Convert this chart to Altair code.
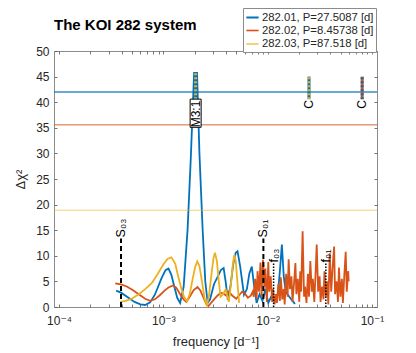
import altair as alt
import pandas as pd

# ---------------- data ----------------
series_names = ["282.01, P=27.5087 [d]", "282.02, P=8.45738 [d]", "282.03, P=87.518 [d]"]
series_colors = ["#0072BD", "#D95319", "#EDB120"]

# 282.01 (blue): log10(frequency [1/d]) and delta chi^2
blue_logf = [-3.452, -3.406, -3.341, -3.276, -3.220, -3.174, -3.127, -3.081, -3.016, -2.979,
             -2.951, -2.923, -2.895, -2.867, -2.839, -2.805, -2.768, -2.737, -2.705, -2.677,
             -2.654, -2.623, -2.598, -2.575, -2.552, -2.514, -2.477, -2.449, -2.422, -2.403,
             -2.382, -2.357, -2.329, -2.306, -2.289, -2.264, -2.227, -2.199, -2.176, -2.152,
             -2.129, -2.106, -2.078, -2.050, -2.022, -1.994, -1.967, -1.934, -1.902, -1.883,
             -1.864, -1.846, -1.827, -1.793, -1.753, -1.739]
blue_val = [3.2, 2.8, 1.9, 1.0, 0.5, 0.4, 0.9, 2.4, 5.7, 7.2,
            7.5, 6.3, 4.0, 1.8, 0.8, 4.0, 15.0, 29.0, 45.7, 45.7,
            30.0, 15.0, 5.0, 0.8, 1.5, 4.5, 6.0, 7.2, 7.6, 5.0,
            1.4, 4.0, 8.5, 10.6, 10.9, 8.0, 2.4, 3.5, 6.5, 7.9,
            4.0, 0.8, 2.5, 1.2, 3.5, 0.8, 2.0, 1.1, 2.6, 7.0,
            12.2, 6.0, 3.0, 2.0, 1.0, 0.6]

# 282.02 (orange)
orange_logf = [-3.461, -3.406, -3.350, -3.294, -3.229, -3.174, -3.127, -3.081, -3.034, -2.988,
               -2.951, -2.907, -2.877, -2.839, -2.802, -2.779, -2.747, -2.709, -2.672, -2.644,
               -2.617, -2.589, -2.567, -2.542, -2.514, -2.477, -2.449, -2.422, -2.403, -2.375,
               -2.338, -2.301, -2.273, -2.245, -2.217, -2.189, -2.162, -2.143,
               -2.134, -2.120, -2.106, -2.097, -2.083, -2.069, -2.059, -2.045, -2.032, -2.022,
               -2.008, -1.994, -1.985, -1.971, -1.957, -1.948, -1.934, -1.920, -1.911, -1.897,
               -1.883, -1.874, -1.860, -1.846, -1.837, -1.823, -1.809, -1.799, -1.786, -1.772,
               -1.762, -1.748, -1.734, -1.725, -1.711, -1.697, -1.688, -1.679, -1.665, -1.651,
               -1.642, -1.628, -1.614, -1.604, -1.591, -1.577, -1.567, -1.553, -1.539, -1.530,
               -1.516, -1.502, -1.493, -1.479, -1.465, -1.456, -1.442, -1.428, -1.419, -1.405,
               -1.391, -1.377, -1.363, -1.354, -1.340, -1.326, -1.317, -1.303, -1.289, -1.279,
               -1.266, -1.252, -1.242, -1.228, -1.224]
orange_val = [4.6, 4.4, 4.0, 3.3, 2.4, 1.6, 1.2, 1.5, 2.3, 3.2,
              3.8, 4.2, 3.8, 2.5, 1.4, 1.0, 2.0, 3.3, 3.9, 3.2,
              1.9, 0.6, 0.2, 0.8, 1.5, 2.3, 2.8, 2.6, 2.3, 3.0,
              2.2, 1.6, 2.3, 3.0, 2.6, 1.8, 2.2, 3.0,
              2.0, 5.5, 1.5, 7.0, 3.0, 8.7, 2.0, 9.2, 4.0, 7.5,
              1.0, 8.8, 3.0, 6.0, 1.0, 3.5, 0.5, 2.5, 0.8, 4.5,
              1.2, 5.8, 1.5, 3.5, 0.5, 6.5, 2.0, 9.3, 3.5, 6.0,
              1.0, 4.5, 8.6, 2.5, 5.5, 1.0, 7.0, 3.0, 14.8, 2.0,
              4.0, 0.8, 6.5, 2.0, 9.0, 3.0, 5.5, 1.0, 7.5, 12.2,
              3.0, 6.0, 1.0, 4.0, 1.5, 7.0, 2.0, 5.0, 0.5, 10.5,
              3.0, 7.9, 11.8, 2.5, 5.0, 1.0, 7.7, 2.0, 5.5, 0.8,
              6.0, 10.8, 3.0, 7.0, 5.0]

# 282.03 (yellow)
yellow_logf = [-3.415, -3.359, -3.294, -3.229, -3.174, -3.109, -3.053, -3.000, -2.960, -2.923,
               -2.886, -2.858, -2.830, -2.802, -2.774, -2.747, -2.719, -2.695, -2.675, -2.654,
               -2.626, -2.603, -2.582, -2.561, -2.538, -2.519, -2.505, -2.487, -2.468, -2.452,
               -2.431, -2.403, -2.372, -2.352, -2.333, -2.319, -2.306, -2.287, -2.273]
yellow_val = [1.0, 1.2, 1.7, 2.6, 3.5, 4.7, 6.5, 8.3, 9.4, 9.7,
              8.5, 6.0, 3.8, 2.0, 1.1, 2.5, 5.5, 7.8, 8.9, 8.0,
              4.5, 1.5, 0.3, 2.5, 6.5, 9.6, 10.6, 9.0, 5.0, 2.0,
              2.4, 3.4, 1.0, 4.5, 8.5, 10.2, 9.0, 4.0, 0.8]

# detection thresholds (horizontal lines)
threshold_levels = [42.0, 35.6, 18.9]

# S and f markers
s_labels = ["S₀₃", "S₀₁"]
s_freq = [3.93e-4, 9.1e-3]
s_top = [13.4, 13.4]
f_labels = ["f₀₃", "f₀₁"]
f_freq = [0.0114, 0.0361]
f_top = [8.5, 8.5]

# resonance / candidate markers
res_freq = [2.04e-3, 0.0249, 0.0805]
res_lo = [40.6, 40.6, 40.6]
res_hi = [45.7, 45.0, 45.0]
res_base = [series_names[0], series_names[0], series_names[1]]
res_dots = [series_names[2], series_names[2], series_names[0]]
res_text = ["M3:1", "C", "C"]
res_text_y = [40.3, 40.4, 40.4]

# boxed "M3:1" label extent
box_freq = [2.04e-3]
box_lo = [35.1]
box_hi = [40.6]

# ---------------- tables ----------------
rows = []
for name, lf, vals in [(series_names[0], blue_logf, blue_val),
                       (series_names[1], orange_logf, orange_val),
                       (series_names[2], yellow_logf, yellow_val)]:
    for a, b in zip(lf, vals):
        rows.append({"series": name, "freq": 10 ** a, "dchi2": b})
curves = pd.DataFrame(rows)

thr = pd.DataFrame({"tseries": series_names, "level": threshold_levels})
sdf = pd.DataFrame({"label": s_labels, "freq": s_freq, "lo": [0] * 2, "top": s_top})
fdf = pd.DataFrame({"label": f_labels, "freq": f_freq, "lo": [0] * 2, "top": f_top})
rdf = pd.DataFrame({"freq": res_freq, "lo": res_lo, "hi": res_hi, "base": res_base,
                    "dots": res_dots, "text": res_text, "ty": res_text_y})
bdf = pd.DataFrame({"freq": box_freq, "blo": box_lo, "bhi": box_hi})

FONT = "Liberation Sans, DejaVu Sans"
TXT = "#262626"
xs = alt.Scale(type="log", domain=[1e-4, 1e-1])
ys = alt.Scale(domain=[0, 50])
cs = alt.Scale(domain=series_names, range=series_colors)

x_ticks = [m * 10.0 ** e for e in (-4, -3, -2) for m in range(1, 10)] + [0.1]
y_ticks = list(range(0, 51, 5))
label_expr = ("abs(log(datum.value)/LN10 - round(log(datum.value)/LN10)) < 0.01 ? "
              "'10' + ['⁻⁴','⁻³','⁻²','⁻¹'][round(log(datum.value)/LN10) + 4] : ''")

tick_style = dict(domain=False, grid=False, ticks=True, tickSize=3, offset=-3,
                  tickColor="#555555", tickWidth=0.8)

bottom_axis = alt.Axis(orient="bottom", values=x_ticks, labelExpr=label_expr,
                       title="frequency [d⁻¹]", labelPadding=8, labelFontSize=12,
                       labelFont=FONT, labelColor=TXT, titleFont=FONT, titleFontSize=13,
                       titleFontWeight="normal", titleColor=TXT, titlePadding=9,
                       labelOverlap=False, labelFlush=False, **tick_style)
left_axis = alt.Axis(orient="left", values=y_ticks, title="Δχ²", labelPadding=5,
                     labelFontSize=12, labelFont=FONT, labelColor=TXT, titleFont=FONT,
                     titleFontSize=13, titleFontWeight="normal", titleColor=TXT,
                     titlePadding=8, labelOverlap=False, **tick_style)
top_axis = alt.Axis(orient="top", values=x_ticks, labels=False, title=None, **tick_style)
right_axis = alt.Axis(orient="right", values=y_ticks, labels=False, title=None, **tick_style)

lines = alt.Chart(curves).mark_line(strokeWidth=1.8).encode(
    x=alt.X("freq:Q", scale=xs, axis=bottom_axis),
    y=alt.Y("dchi2:Q", scale=ys, axis=left_axis),
    color=alt.Color("series:N", scale=cs, legend=alt.Legend(
        orient="none", legendX=189, legendY=-43, title=None, symbolType="stroke",
        symbolStrokeWidth=2.5, symbolSize=150, labelFontSize=11.3, labelFont=FONT,
        labelColor=TXT, strokeColor="#8c8c8c", fillColor="white", padding=2,
        rowPadding=0.5, labelOffset=2, cornerRadius=0)),
)

frame_axes = alt.Chart(curves).mark_point(opacity=0).encode(
    x=alt.X("freq:Q", scale=xs, axis=top_axis),
    y=alt.Y("dchi2:Q", scale=ys, axis=right_axis),
)

hrules = alt.Chart(thr).mark_rule(opacity=0.6).encode(
    y=alt.Y("level:Q", scale=ys, axis=None),
    color=alt.Color("tseries:N", scale=cs, legend=None),
    strokeWidth=alt.StrokeWidth("tseries:N",
                                scale=alt.Scale(domain=series_names, range=[2, 1.2, 2.4]),
                                legend=None),
)

s_rules = alt.Chart(sdf).mark_rule(color="black", strokeWidth=2, strokeDash=[5, 3]).encode(
    x=alt.X("freq:Q", scale=xs, axis=None), y=alt.Y("lo:Q", scale=ys, axis=None), y2="top:Q")
s_text = alt.Chart(sdf).mark_text(angle=270, align="left", baseline="middle", fontSize=12.5,
                                  font=FONT, color="black", dx=1).encode(
    x=alt.X("freq:Q", scale=xs, axis=None), y=alt.Y("top:Q", scale=ys, axis=None), text="label:N")

f_rules = alt.Chart(fdf).mark_rule(color="black", strokeWidth=1.5, strokeDash=[1.5, 1.5]).encode(
    x=alt.X("freq:Q", scale=xs, axis=None), y=alt.Y("lo:Q", scale=ys, axis=None), y2="top:Q")
f_text = alt.Chart(fdf).mark_text(angle=270, align="left", baseline="middle", fontSize=12.5,
                                  font=FONT, color="black", dx=1).encode(
    x=alt.X("freq:Q", scale=xs, axis=None), y=alt.Y("top:Q", scale=ys, axis=None), text="label:N")

r_base = alt.Chart(rdf).mark_rule(strokeWidth=3).encode(
    x=alt.X("freq:Q", scale=xs, axis=None), y=alt.Y("lo:Q", scale=ys, axis=None), y2="hi:Q",
    color=alt.Color("base:N", scale=cs, legend=None))
r_dots = alt.Chart(rdf).mark_rule(strokeWidth=3, strokeDash=[2, 2]).encode(
    x=alt.X("freq:Q", scale=xs, axis=None), y=alt.Y("lo:Q", scale=ys, axis=None), y2="hi:Q",
    color=alt.Color("dots:N", scale=cs, legend=None))

box = alt.Chart(bdf).mark_bar(width=11, fill="white", stroke="black", strokeWidth=1,
                              opacity=1).encode(
    x=alt.X("freq:Q", scale=xs, axis=None), y=alt.Y("blo:Q", scale=ys, axis=None), y2="bhi:Q")

r_text = alt.Chart(rdf).mark_text(angle=270, align="right", baseline="middle", fontSize=12,
                                  font=FONT, color="black").encode(
    x=alt.X("freq:Q", scale=xs, axis=None), y=alt.Y("ty:Q", scale=ys, axis=None), text="text:N")

chart = alt.layer(
    lines, hrules, s_rules, f_rules, r_base, r_dots, box, s_text, f_text, r_text, frame_axes
).resolve_axis(x="independent", y="independent").properties(
    width=323, height=256,
    title=alt.TitleParams("The KOI 282 system", anchor="start", frame="group", fontSize=15,
                          fontWeight="bold", font=FONT, color="black", offset=18, dy=43),
    autosize=alt.AutoSizeParams(type="none"),
    padding={"left": 46, "top": 43, "right": 31, "bottom": 42},
).configure_view(stroke="#8c8c8c", strokeWidth=1)

chart.save("out.html", embed_options={"renderer": "svg", "actions": False})
